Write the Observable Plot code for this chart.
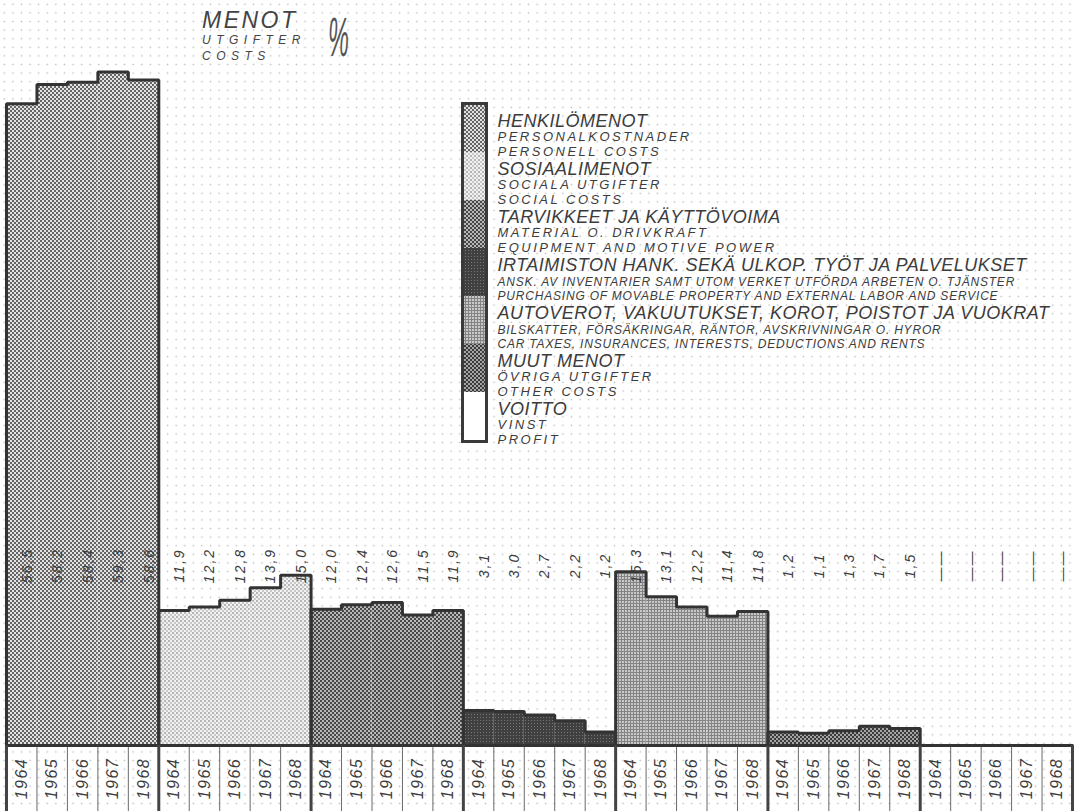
<!DOCTYPE html>
<html><head><meta charset="utf-8">
<script src="https://cdn.jsdelivr.net/npm/d3@7"></script>
<script src="https://cdn.jsdelivr.net/npm/@observablehq/plot@0.6"></script>
<style>
html,body{margin:0;padding:0;background:#fff;}
#wrap{position:relative;width:1075px;height:811px;overflow:hidden;
 background-image: radial-gradient(circle, #bdbdbd 0.6px, transparent 1.1px); background-size: 8.6px 8.6px;}
#wrap svg{overflow:visible}
.t{position:absolute;font-family:"Liberation Sans",Arial,sans-serif;font-style:italic;color:#444;line-height:1;white-space:nowrap}
#legend{position:absolute;left:462px;top:103px}
#chart{position:absolute;left:0;top:0}
</style></head><body>
<svg width="0" height="0" style="position:absolute">
 <defs>
  <pattern id="p0" width="4" height="4" patternUnits="userSpaceOnUse">
   <rect width="4" height="4" fill="#e2e2e2"/><rect width="2" height="2" fill="#666"/><rect x="2" y="2" width="2" height="2" fill="#666"/>
  </pattern>
  <pattern id="p1" width="4" height="4" patternUnits="userSpaceOnUse">
   <rect width="4" height="4" fill="#f2f2f2"/><rect width="2" height="2" fill="#b5b5b5"/><rect x="2" y="2" width="2" height="2" fill="#c8c8c8"/>
  </pattern>
  <pattern id="p2" width="4" height="4" patternUnits="userSpaceOnUse">
   <rect width="4" height="4" fill="#b8b8b8"/><rect width="2" height="2" fill="#474747"/><rect x="2" y="2" width="2" height="2" fill="#474747"/>
  </pattern>
  <pattern id="p3" width="3" height="3" patternUnits="userSpaceOnUse">
   <rect width="3" height="3" fill="#404040"/><rect width="1" height="1" fill="#777"/>
  </pattern>
  <pattern id="p4" width="3" height="3" patternUnits="userSpaceOnUse">
   <rect width="3" height="3" fill="#c8c8c8"/><rect width="3" height="1" fill="#848484"/><rect width="1" height="3" fill="#848484"/>
  </pattern>
  <pattern id="p5" width="4" height="4" patternUnits="userSpaceOnUse">
   <rect width="4" height="4" fill="#a4a4a4"/><rect width="2" height="2" fill="#3a3a3a"/><rect x="2" y="2" width="2" height="2" fill="#3a3a3a"/>
  </pattern>
 </defs>
</svg>
<div id="wrap">
 <div id="chart"></div>
 <div id="legend"></div>
 <div class="t" style="left:202px;top:8.5px;font-size:23px;letter-spacing:2.5px">MENOT</div>
 <div class="t" style="left:202px;top:34px;font-size:12px;letter-spacing:5.5px">UTGIFTER</div>
 <div class="t" style="left:202px;top:50px;font-size:12px;letter-spacing:5.5px">COSTS</div>
 <div class="t" style="left:328px;top:9px;font-size:56px;font-weight:100;transform:scaleX(0.42);transform-origin:left top;color:#555">%</div>
</div>
<script>
// ---- data ----
const years = ["1964", "1965", "1966", "1967", "1968"];
const catFI = ["HENKILÖMENOT", "SOSIAALIMENOT", "TARVIKKEET JA KÄYTTÖVOIMA",
  "IRTAIMISTON HANK. SEKÄ ULKOP. TYÖT JA PALVELUKSET",
  "AUTOVEROT, VAKUUTUKSET, KOROT, POISTOT JA VUOKRAT", "MUUT MENOT", "VOITTO"];
const catSV = ["PERSONALKOSTNADER", "SOCIALA UTGIFTER", "MATERIAL O. DRIVKRAFT",
  "ANSK. AV INVENTARIER SAMT UTOM VERKET UTFÖRDA ARBETEN O. TJÄNSTER",
  "BILSKATTER, FÖRSÄKRINGAR, RÄNTOR, AVSKRIVNINGAR O. HYROR", "ÖVRIGA UTGIFTER", "VINST"];
const catEN = ["PERSONELL COSTS", "SOCIAL COSTS", "EQUIPMENT AND MOTIVE POWER",
  "PURCHASING OF MOVABLE PROPERTY AND EXTERNAL LABOR AND SERVICE",
  "CAR TAXES, INSURANCES, INTERESTS, DEDUCTIONS AND RENTS", "OTHER COSTS", "PROFIT"];
const henkilomenot = [56.5, 58.2, 58.4, 59.3, 58.6];
const sosiaalimenot = [11.9, 12.2, 12.8, 13.9, 15.0];
const tarvikkeet = [12.0, 12.4, 12.6, 11.5, 11.9];
const irtaimisto = [3.1, 3.0, 2.7, 2.2, 1.2];
const autoverot = [15.3, 13.1, 12.2, 11.4, 11.8];
const muutMenot = [1.2, 1.1, 1.3, 1.7, 1.5];
const voitto = [0, 0, 0, 0, 0];
const patternFills = ["url(#p0)", "url(#p1)", "url(#p2)", "url(#p3)", "url(#p4)", "url(#p5)", "#ffffff"];

const series = [henkilomenot, sosiaalimenot, tarvikkeet, irtaimisto, autoverot, muutMenot, voitto];
const yTop = 65.6, yBottom = -5.8;

const rows = [];
series.forEach((vals, g) => vals.forEach((v, i) => rows.push({
  cat: catFI[g], year: years[i], col: g * 5 + i, value: v,
  label: v === 0 ? "——" : v.toFixed(1).replace(".", ",")
})));

const outline = [];
series.forEach((vals, g) => {
  const s = g * years.length;
  outline.push({cat: catFI[g], x: s, y: 0});
  vals.forEach((v, i) => outline.push({cat: catFI[g], x: s + i, y: v}));
  outline.push({cat: catFI[g], x: s + vals.length, y: vals[vals.length - 1]});
  outline.push({cat: catFI[g], x: s + vals.length, y: 0});
});
const nCols = rows.length;
const boundaries = d3.range(nCols + 1);

const font = "Liberation Sans, Arial, sans-serif";
const ink = "#3c3c3c";

const chart = Plot.plot({
  width: 1075, height: 811,
  marginTop: 0, marginBottom: 0, marginLeft: 6, marginRight: 3,
  x: {domain: [0, nCols], axis: null},
  y: {domain: [yBottom, yTop], axis: null},
  color: {domain: catFI, range: patternFills},
  style: {background: "transparent", fontFamily: font, overflow: "visible"},
  marks: [
    Plot.rectY(rows, {x1: "col", x2: d => d.col + 1, y1: 0, y2: "value", fill: "cat", inset: 0}),
    Plot.line(outline, {x: "x", y: "y", z: "cat", curve: "step-after", stroke: "#333", strokeWidth: 3, strokeLinejoin: "miter"}),
    Plot.ruleY([0], {stroke: "#333", strokeWidth: 3}),
    Plot.ruleX(boundaries, {x: d => d, y1: yBottom, y2: 0, stroke: "#444", strokeWidth: d => d % 5 === 0 ? 3 : 0.8}),
    Plot.text(rows, {x: d => d.col + 0.5, y: yBottom / 2, text: "year", rotate: -90, fontSize: 16, fontStyle: "italic", fill: ink}),
    Plot.text(rows, {x: d => d.col + 0.5, text: "label", frameAnchor: "top", dy: 565, rotate: -90, fontSize: 14, fontStyle: "italic", fill: ink})
  ]
});
const tg = chart.querySelectorAll('g[aria-label="text"]');
if (tg[0]) tg[0].style.letterSpacing = "1.5px";
if (tg[1]) tg[1].style.letterSpacing = "2px";
document.getElementById("chart").appendChild(chart);

const legendRows = catFI.map((fi, i) => ({fi, sv: catSV[i], en: catEN[i], sub: catSV[i] + "\n" + catEN[i]}));
const isLong = d => d.sv.length > 40;
const legend = Plot.plot({
  width: 610, height: 352,
  marginTop: 0, marginBottom: 14, marginLeft: 0, marginRight: 586,
  x: {domain: [0, 1], axis: null},
  y: {domain: catFI, axis: null, padding: 0},
  color: {domain: catFI, range: patternFills},
  style: {background: "transparent", fontFamily: font, overflow: "visible"},
  marks: [
    Plot.barX(legendRows, {x1: 0, x2: 1, y: "fi", fill: "fi", inset: 0}),
    Plot.frame({stroke: "#3a3a3a", strokeWidth: 3}),
    Plot.text(legendRows, {x: 1, y: "fi", text: "fi", textAnchor: "start", lineAnchor: "bottom", dx: 11, dy: -2, fontSize: 18, fontStyle: "italic", fill: ink}),
    Plot.text(legendRows.filter(d => !isLong(d)), {x: 1, y: "fi", text: "sub", textAnchor: "start", lineAnchor: "top", lineHeight: 1.08, dx: 11, dy: 3, fontSize: 13, fontStyle: "italic", fill: ink}),
    Plot.text(legendRows.filter(isLong), {x: 1, y: "fi", text: "sub", textAnchor: "start", lineAnchor: "top", lineHeight: 1.17, dx: 11, dy: 3.5, fontSize: 12, fontStyle: "italic", fill: ink})
  ]
});
const lg = legend.querySelectorAll('g[aria-label="text"]');
if (lg[0]) lg[0].style.letterSpacing = "0.5px";
if (lg[1]) lg[1].style.letterSpacing = "2.5px";
if (lg[2]) lg[2].style.letterSpacing = "0.8px";
document.getElementById("legend").appendChild(legend);
</script>
</body></html>
